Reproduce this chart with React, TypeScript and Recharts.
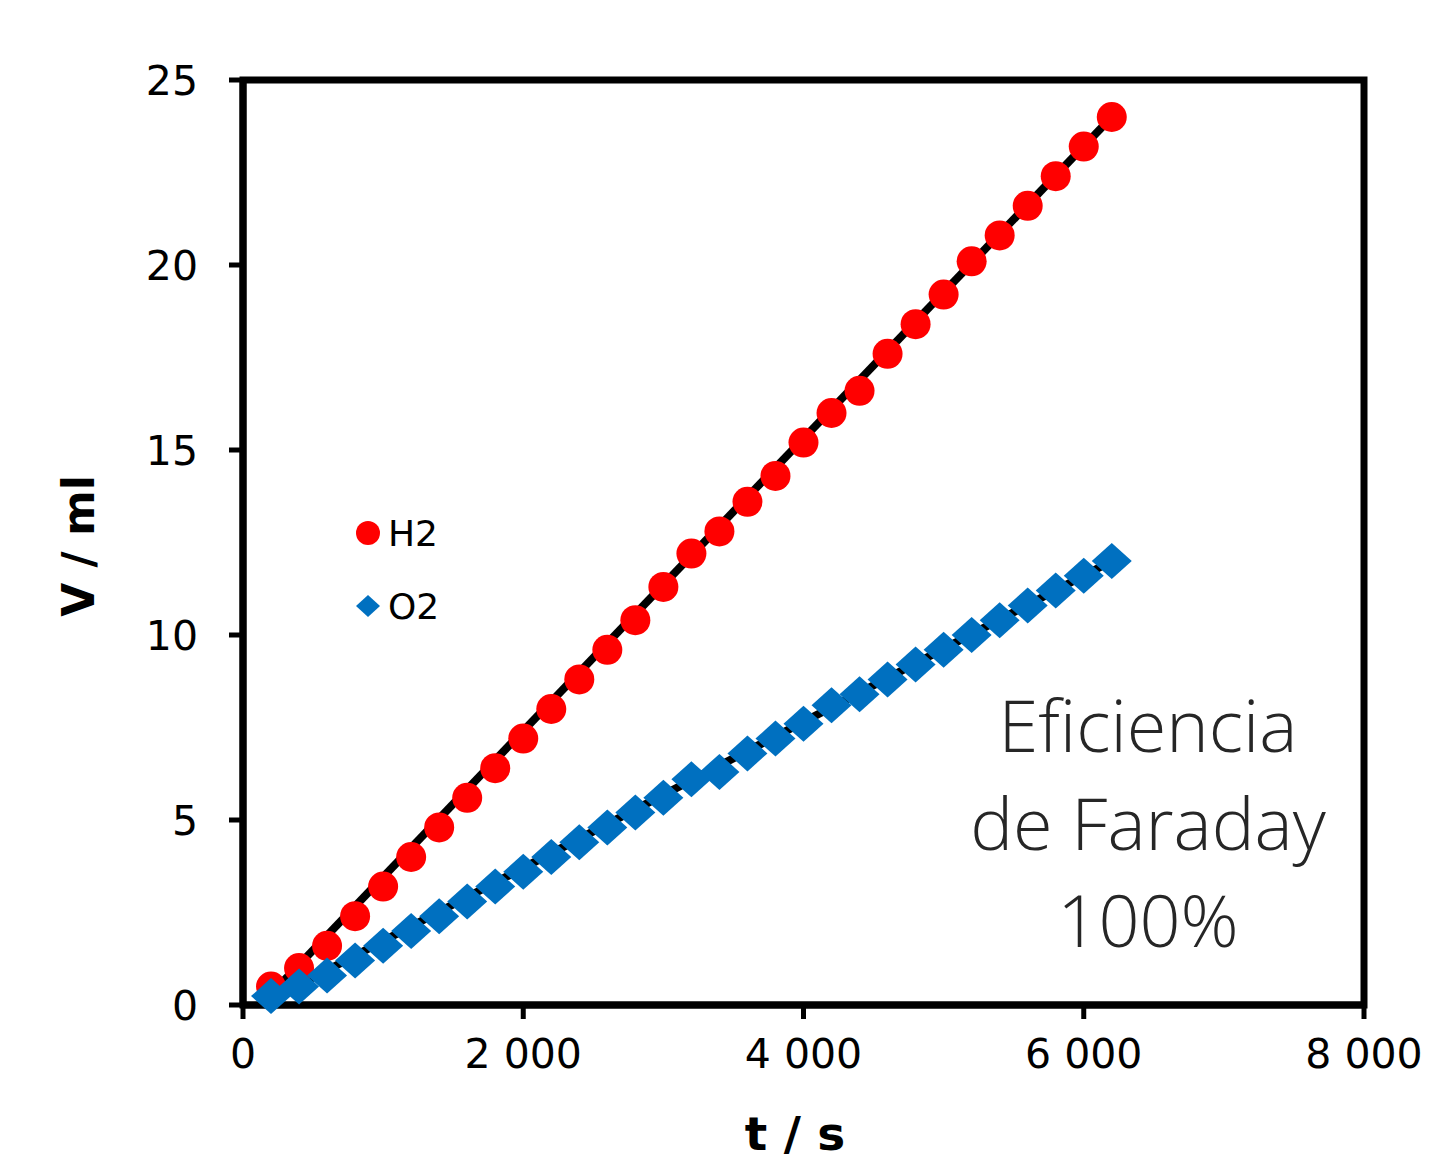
import React from 'react';
import { ScatterChart, Scatter, XAxis, YAxis, ReferenceArea } from 'recharts';

const times = [200, 400, 600, 800, 1000, 1200, 1400, 1600, 1800, 2000, 2200, 2400, 2600, 2800, 3000, 3200, 3400, 3600, 3800, 4000, 4200, 4400, 4600, 4800, 5000, 5200, 5400, 5600, 5800, 6000, 6200];
const h2Values = [0.5, 1.0, 1.6, 2.4, 3.2, 4.0, 4.8, 5.6, 6.4, 7.2, 8.0, 8.8, 9.6, 10.4, 11.3, 12.2, 12.8, 13.6, 14.3, 15.2, 16.0, 16.6, 17.6, 18.4, 19.2, 20.1, 20.8, 21.6, 22.4, 23.2, 24.0];
const o2Values = [0.24, 0.5, 0.8, 1.2, 1.6, 2.0, 2.4, 2.8, 3.2, 3.6, 4.0, 4.4, 4.8, 5.2, 5.6, 6.1, 6.3, 6.8, 7.2, 7.6, 8.1, 8.4, 8.8, 9.2, 9.6, 10.0, 10.4, 10.8, 11.2, 11.6, 12.0];
const fitTimes = [200, 6200];
const fitH2 = [0.3, 24.0];
const fitO2 = [0.15, 12.0];
const xTicks = [0, 2000, 4000, 6000, 8000];
const yTicks = [0, 5, 10, 15, 20, 25];
const xDomain = [0, 8000];
const yDomain = [0, 25];
const seriesNames = ['H2', 'O2'];
const annotationLines = ['Eficiencia', 'de Faraday', '100%'];

const RED = '#FF0000';
const BLUE = '#0070C0';

const h2Data = times.map((t, i) => ({ t, v: h2Values[i] }));
const o2Data = times.map((t, i) => ({ t, v: o2Values[i] }));
const fitH2Data = fitTimes.map((t, i) => ({ t, v: fitH2[i] }));
const fitO2Data = fitTimes.map((t, i) => ({ t, v: fitO2[i] }));

const fmt = (v: number) => {
  const s = String(v);
  return s.length > 3 ? s.slice(0, s.length - 3) + ' ' + s.slice(-3) : s;
};

const tickFont = { fontFamily: 'DejaVu Sans', fontSize: 41, fill: '#000' };

const Circle = (p: any) => <circle cx={p.cx} cy={p.cy} r={15} fill={RED} />;
const Diamond = (p: any) => (
  <polygon
    points={`${p.cx - 20},${p.cy} ${p.cx},${p.cy - 18} ${p.cx + 20},${p.cy} ${p.cx},${p.cy + 18}`}
    fill={BLUE}
  />
);
const Empty = () => <g />;

export default function App() {
  return (
    <div style={{ position: 'absolute', left: 0, top: 0, width: 1431, height: 1162, background: '#fff' }}>
      <ScatterChart width={1431} height={1162} margin={{ top: 80, right: 67, bottom: 0, left: 0 }}>
        <XAxis
          dataKey="t"
          type="number"
          domain={xDomain}
          ticks={xTicks}
          tickFormatter={fmt}
          height={157}
          tickSize={14}
          tickMargin={20}
          tick={tickFont}
          axisLine={{ stroke: '#000', strokeWidth: 7 }}
          tickLine={{ stroke: '#000', strokeWidth: 5 }}
          interval={0}
        />
        <YAxis
          dataKey="v"
          type="number"
          domain={yDomain}
          ticks={yTicks}
          width={243}
          tickSize={14}
          tickMargin={31}
          tick={tickFont}
          axisLine={{ stroke: '#000', strokeWidth: 7 }}
          tickLine={{ stroke: '#000', strokeWidth: 5 }}
          interval={0}
        />
        <Scatter data={fitH2Data} line={{ stroke: '#000', strokeWidth: 8 }} shape={Empty} legendType="none" isAnimationActive={false} />
        <Scatter data={fitO2Data} line={{ stroke: '#000', strokeWidth: 8 }} shape={Empty} legendType="none" isAnimationActive={false} />
        <Scatter name={seriesNames[0]} data={h2Data} shape={Circle} isAnimationActive={false} />
        <Scatter name={seriesNames[1]} data={o2Data} shape={Diamond} isAnimationActive={false} />
        <ReferenceArea
          x1={xDomain[0]}
          x2={xDomain[1]}
          y1={yDomain[0]}
          y2={yDomain[1]}
          fill="none"
          fillOpacity={0}
          stroke="#000"
          strokeWidth={7}
          ifOverflow="visible"
        />
      </ScatterChart>
      <svg width={1431} height={1162} style={{ position: 'absolute', left: 0, top: 0, pointerEvents: 'none' }}>
        <circle cx={368} cy={533} r={12} fill={RED} />
        <text x={388} y={546} fontFamily="DejaVu Sans" fontSize={36} fill="#000">{seriesNames[0]}</text>
        <polygon points="356,606 368,595 380,606 368,617" fill={BLUE} />
        <text x={388} y={619} fontFamily="DejaVu Sans" fontSize={36} fill="#000">{seriesNames[1]}</text>
        <text x={795} y={1150} textAnchor="middle" fontFamily="DejaVu Sans" fontWeight="bold" fontSize={47} fill="#000">t / s</text>
        <text x={94} y={546} textAnchor="middle" transform="rotate(-90, 94, 546)" fontFamily="DejaVu Sans" fontWeight="bold" fontSize={44} fill="#000">V / ml</text>
        {annotationLines.map((l, i) => (
          <text key={i} x={1148} y={752 + i * 97.5} textAnchor="middle" fontFamily="Open Sans" fontWeight={300} fontSize={72} fill="#262626">{l}</text>
        ))}
      </svg>
    </div>
  );
}
